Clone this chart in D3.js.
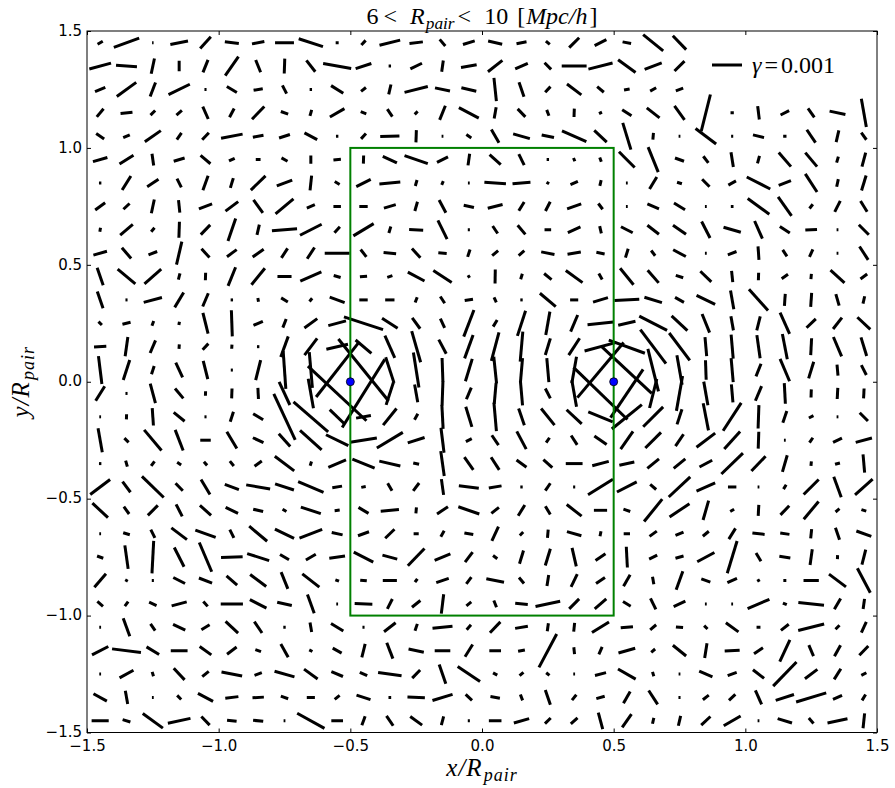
<!DOCTYPE html>
<html>
<head>
<meta charset="utf-8">
<script src="https://cdn.jsdelivr.net/npm/d3@7"></script>
<style>
  body { margin: 0; background: #fff; }
  svg text { fill: #000; }
</style>
</head>
<body>
<svg id="chart" width="895" height="788"></svg>
<script>
// Grid of cell centres (x/R_pair, y/R_pair); rows run from top to bottom.
const xCenters = [-1.45,-1.35,-1.25,-1.15,-1.05,-0.95,-0.85,-0.75,-0.65,-0.55,
                  -0.45,-0.35,-0.25,-0.15,-0.05,0.05,0.15,0.25,0.35,0.45,
                  0.55,0.65,0.75,0.85,0.95,1.05,1.15,1.25,1.35,1.45];
const yCenters = [1.45,1.35,1.25,1.15,1.05,0.95,0.85,0.75,0.65,0.55,
                  0.45,0.35,0.25,0.15,0.05,-0.05,-0.15,-0.25,-0.35,-0.45,
                  -0.55,-0.65,-0.75,-0.85,-0.95,-1.05,-1.15,-1.25,-1.35,-1.45];

// Shear amplitude |gamma| per cell, in units of 1e-4 (null = no measurement).
const gammaAmp = [
 [2,9,0.5,6,5.3,4.7,4.2,6.3,8.5,1,2.1,7.1,4.5,2.9,4.1,4.8,3.4,1.7,4.7,4.4,2.9,8.6,6.4,null,null,null,null,null,null,null],
 [7.5,7,5.2,3.5,4.5,7.7,4.4,5,4.8,9.5,5.5,0.8,4.3,3.8,5.3,6.1,4.6,3.1,8.3,8.3,7.2,6.1,4.7,null,null,null,null,null,null,null],
 [3.7,8,5,7.9,0.7,3.9,3.1,3.1,0.8,4.8,2.1,3.4,8,5.1,5.1,7.8,5.1,2.6,6,2.9,1.9,2.3,2.6,null,null,null,null,null,null,null],
 [3.5,4,2.2,2.4,4.5,3.3,5.9,2.6,2.1,5.6,2,3,1.4,5.1,7.5,3.8,3.7,2.1,2.8,1.1,3.7,5.4,5.7,12.6,1.1,4.5,3.2,3.7,5.4,9.6],
 [3.2,2.4,6.5,2.7,3.2,7.3,3.6,3.8,4.8,0.8,2.4,6.4,4.1,0.6,2,5.1,5.8,4.2,8.9,5.7,9.3,2.2,0.6,8.6,0.7,3.8,1.1,5.2,4,2.9],
 [5,5.5,4,3.8,4.3,2.1,1.6,2.3,2.8,2.5,2.7,5.2,8.2,4.1,3.9,5,4.1,0.8,1.2,1.5,7.4,9,3.2,2.8,5,2.6,6.2,6.1,2.1,4.8],
 [0.8,5.5,4.5,3.3,5.1,3.4,6.8,5.5,5,1.9,5.4,7,2.1,1.4,0.6,7.2,6,1,2.7,2,0.6,4.7,1.7,3.5,2.9,8.8,4.4,7.2,2.6,5.2],
 [4.1,2.8,4.7,4.2,4.7,5.3,5.3,7.8,2.9,2.5,2.8,4.1,3.2,4.8,3.5,5.1,3.4,3.5,5,2.4,0.6,4.2,4.3,0.6,0.9,8.9,7.8,1.8,4.1,4.2],
 [1.3,5.5,1.7,5.3,4.5,7.9,3.5,8.4,8.1,2.7,7.9,2.3,4.7,7,0.7,3,4,2.2,4.6,2.5,4.4,4.9,5.3,6.2,6,6.4,4,3.9,0.6,4.7],
 [4.7,4.7,3.1,7.9,4,4,4.5,3.8,4.5,8.3,3.1,4.2,4.2,2.8,2.6,2.6,2.5,4.5,4.5,2.8,3.1,2.2,4.8,0.6,3.1,4.5,2.6,2.8,0.6,5.3],
 [6.2,7.7,7.4,2.1,2.5,6.7,7.1,4.7,7.7,2.4,2.4,1.8,6.3,7.3,1,4.7,1.9,3.2,6.9,2.3,7.1,5.6,2.6,5.1,3.8,2.5,2.6,1.8,6.3,2.8],
 [5.9,0.7,6.3,5.8,4.8,0.8,1.3,2.6,1.4,5.3,2.8,3.1,1.9,2.7,2.8,1.8,0.8,6.9,2.7,5.2,8.3,6.1,3.4,6.9,6.3,9.5,4,4.7,4,2.5],
 [1.6,2.8,1.7,1.1,7.1,8.7,3.4,3.1,5.3,6.1,13.7,6.2,4.5,3.4,9.5,2.6,8.8,7.9,6,8.7,5.9,10.4,7.2,6.7,4.8,4.8,7.8,4.3,4.8,5.9],
 [4.1,6.5,4.6,1.5,2.8,1.4,0.8,7.3,7,7.4,6.9,8.1,10.8,5.3,8.3,9.8,10,5.8,6.7,11,12.8,14.2,11.4,6.4,8,7.8,8.6,5.6,7,6.5],
 [9.4,7,2.9,5.4,6.3,0.7,6.9,12.6,12,22.8,26.6,9,11.8,8,7.8,8.9,8,8,9,24,22.7,14.6,10,6.5,8,4.5,8.1,5.8,3.7,3.7],
 [5.7,0.7,6.7,4.3,1.5,3.3,3.7,8.5,10,26.7,26.8,8,6,8,4.2,7,8,3.7,9,25,19.4,10,11.8,8,6,5.3,6.9,2.7,3.7,3.3],
 [0.6,1.7,5.8,4.7,0.7,3.5,3.9,16.9,15.3,6.9,5,7.1,2.3,8,7,9.5,5.9,7.1,6.9,8.8,12.9,9.4,5.3,9.2,11.1,7.8,4.1,1.7,0.6,3.9],
 [8.1,2,9,7.4,3.5,6.5,3.9,5.7,9.7,8.3,9,10.1,5.9,8.4,2.2,4,6.7,2,3.7,5,7.2,7.4,4.8,7.8,7.9,5.6,0.6,2,3.3,5.6],
 [0.8,2.1,1.9,1.6,1.6,2.1,3,8.1,1.5,6.4,8,7.2,2,8.4,5.2,5,4.1,4,5.6,5.7,5.1,5,5,4.8,10,6.8,5.8,1.5,1.7,6.1],
 [8.3,4.4,10.1,3.5,5.8,5,8.1,6.6,9.2,3.3,1.5,2.9,3.3,5.3,6.7,4.3,0.8,3,0.7,9.8,7.4,2.6,9.8,6.8,2.8,0.6,1.7,7.1,7.3,7.9],
 [7.1,3,4.7,4.5,5,4.6,3.4,1.5,7,1.7,3.9,6.1,2,4.4,7.4,3.2,4.2,3.2,6.3,4.4,2.4,9.6,8,6.7,1.5,3.7,4.2,7.7,1.7,1.7],
 [0.6,2.3,3.1,6.5,7.2,3.1,7.8,7.1,8.1,3.7,3.9,4.3,1.7,2.3,3,5.2,1.6,2.7,5,1.7,2.1,3,2.9,2.6,4.2,4.1,3.1,3.1,4.2,5.3],
 [2.2,7.9,10.9,7.2,10.6,7.2,7.7,3.5,3.8,5.3,7.3,5.1,8,5.7,4.2,1.8,4.6,5.8,6.3,4,6.9,3,2.8,6.5,11.2,3.2,3.7,5.3,1.3,5.2],
 [5.9,0.9,0.7,4.4,4.7,4.7,6.7,6,7.2,1.3,2.2,4.7,1.4,4.4,2.8,6,2.6,3.7,4.7,3.6,4.4,2.5,6.5,3.2,3.5,1,1,5.1,7.1,9.2],
 [2.5,1.9,2.7,5.2,2.2,7.4,6.2,5,6.6,0.6,5.9,3.7,3.6,6.5,2.1,2.4,4.2,8.4,4.7,5.1,3,4.1,4.3,0.6,0.6,7.9,1.4,8.6,4.2,3.4],
 [0.6,6.4,2.7,4.5,3.2,5.7,4.6,0.8,3.2,4.8,0.7,4.9,2.4,6.7,2.2,5,4.3,2.7,2.9,6.7,4.1,2.6,2.4,1.6,5.2,1.3,3.3,8.9,1.9,3.9],
 [6.1,9.7,4.9,5.6,4.8,4,2,5.1,1.2,3.4,4.6,5.7,5.2,5.2,4.8,3.9,2.3,12.6,2.3,2.7,5.8,1.7,5.7,5,5,3.6,8,4,4.2,4.3],
 [0.6,5.3,1.5,5.3,2.8,7,2.6,6.9,5.6,4.2,2.7,7.9,3.8,6.8,9,1.6,1.7,1.4,0.6,3.8,6.8,1.5,0.6,4.8,3.2,4.7,11.2,5.2,4.2,1.9],
 [5.1,4.5,0.6,1.9,5.7,4.4,3.8,2.6,2.7,2.1,4.9,0.9,5.8,7,2.9,3.2,2.1,5.2,2.3,2.9,4.5,5.5,0.7,2.5,2.9,5.1,6.4,10.5,3.3,2.3],
 [5.7,2.7,8.3,7.7,4,3.2,3.4,0.6,10.4,3.9,3.2,4,4.9,3,0.7,4.2,5.3,2.7,3,5.7,5.4,2,3.4,4.2,6.5,0.6,5,2.4,6.8,5]
];

// Shear position angle per cell, degrees counter-clockwise from the +x axis.
const gammaAngle = [
 [30,20,0,11,48,-7,11,0,-18,0,47,14,7,-50,17,-13,11,-40,45,27,-11,-39,-46,null,null,null,null,null,null,null],
 [15,-4,78,90,68,55,-68,88,-52,-10,18,0,26,82,10,38,24,-45,0,14,-36,21,45,null,null,null,null,null,null,null],
 [22,36,69,26,0,-31,10,-63,0,-32,39,77,14,-12,-13,-84,-71,47,-37,-40,10,29,20,null,null,null,null,null,null,null],
 [50,6,45,41,-66,62,46,-20,74,30,-22,-56,45,68,-28,80,-46,-69,88,27,-33,-38,-54,76,0,-83,27,-55,-12,-80],
 [-34,24,35,55,46,11,11,18,-28,0,47,2,88,0,-34,-60,-16,-12,-24,-43,-73,85,0,-37,0,-14,0,-56,77,-54],
 [16,32,-82,17,-40,25,0,-29,90,5,88,-25,-19,27,82,-42,-64,0,-68,-69,-45,-68,-20,-53,-81,75,-49,-50,74,75],
 [0,58,33,-64,70,73,44,21,84,-31,27,5,74,67,0,-4,5,58,24,77,0,59,-18,-45,29,-27,22,-57,78,73],
 [36,43,78,-84,21,37,-54,40,23,0,0,16,74,-62,-13,14,58,63,20,-53,0,-23,-31,0,0,-36,-55,52,63,-58],
 [80,40,50,88,46,71,77,5,27,48,31,73,-3,-64,0,-56,-50,0,24,-77,-27,-38,-35,-63,-16,-66,-34,3,0,-45],
 [16,-49,21,77,-48,36,35,57,57,0,-52,-5,-48,-5,72,40,41,-11,10,-11,73,-53,-28,0,21,-86,-57,66,0,-57],
 [-71,-40,41,75,88,68,51,0,24,-16,5,18,-28,-33,32,89,73,-39,-36,-61,-51,-49,-18,-44,-84,88,36,85,-42,37],
 [-71,0,15,59,67,0,-80,-31,51,-20,0,0,69,-57,9,-65,0,-40,0,17,3,-17,-29,-26,-80,-48,86,86,-74,77],
 [-45,14,70,80,-76,-88,23,69,36,15,-18,-33,-54,-65,69,59,72,80,67,6,13,-27,-43,-68,-80,76,-66,44,52,-43],
 [3,82,67,86,47,86,0,70,53,13,-40,-66,-74,-62,70,75,85,73,57,15,-20,-53,-53,-85,-85,-82,-79,87,-67,-73],
 [-83,72,72,-65,-76,0,76,-86,-85,52,-51,-72,-81,-88,73,-84,85,-85,80,50,-43,-76,-80,-88,-85,68,-67,73,-85,-63],
 [58,0,-75,-50,88,88,-87,-65,-80,-43,58,72,-80,88,67,85,-85,-63,-80,-44,56,76,80,-80,-85,67,-87,88,87,87],
 [0,88,-86,-39,0,72,-31,-65,-41,-44,10,51,61,-87,-73,-85,-71,-51,-43,-22,39,45,72,-79,57,88,71,27,0,-45],
 [-80,-45,-50,-69,0,-59,-25,-48,-42,-26,9,31,18,-83,27,-56,-62,56,-57,-35,55,45,56,37,48,88,0,56,26,15],
 [0,-74,54,-34,-48,-51,36,-37,72,23,-22,-13,-13,-82,-55,-57,-36,-42,0,15,12,39,39,28,44,46,74,85,15,-85],
 [37,-53,-44,-46,-59,-20,-10,-18,-23,10,10,-60,53,-82,-7,10,0,56,0,32,27,-40,43,24,0,0,58,45,-70,42],
 [-43,-54,45,-63,-42,-26,-13,-30,-18,7,-31,5,85,34,-19,38,58,-59,-38,0,-19,51,34,74,30,87,46,50,40,-18],
 [0,-17,-64,-37,-20,-64,-40,-26,21,-12,20,44,0,61,-10,65,45,85,-16,79,0,36,23,40,58,-6,-8,84,-71,-20],
 [-20,-82,87,-63,-67,2,-18,-31,30,8,-27,-15,46,23,53,-38,73,73,-77,34,-87,27,16,28,73,-59,-9,82,88,76],
 [49,60,0,-27,-21,-41,-37,-68,-38,-20,-5,0,55,19,53,-11,-50,81,64,34,60,-80,70,-20,24,30,0,0,-37,-62],
 [-41,54,-24,15,-49,0,-27,-13,-70,0,-2,63,39,83,39,-68,-5,12,45,41,-31,-64,25,0,0,23,-23,-6,60,82],
 [0,-70,-55,-25,31,-43,-56,0,-80,-31,0,38,71,6,49,46,10,82,84,32,5,40,-5,-45,-36,0,38,14,45,65],
 [27,-7,-31,0,-36,37,-19,-61,-27,-29,76,-69,-12,0,58,0,11,62,-84,66,16,40,-39,81,3,34,65,-67,61,46],
 [0,29,-73,-47,39,-11,20,-16,-36,-23,-24,-8,46,-71,-34,-28,40,-39,0,14,-30,-73,0,-23,20,-38,46,37,58,28],
 [-29,-80,0,-45,-28,7,3,-20,0,39,-18,0,-2,17,-43,-10,-69,-71,51,16,60,-57,0,38,43,-66,18,17,24,59],
 [0,-17,-36,12,-46,-6,-6,0,-29,0,70,-56,-36,75,0,0,16,45,42,-75,55,77,77,43,30,0,-17,-49,12,84]
];

// Pair members and the stacking box between them.
const haloX = [-0.5, 0.5];
const haloY = [0, 0];
const boxX = [-0.5, 0.5];
const boxY = [-1, 1];

const tickValues = [-1.5, -1.0, -0.5, 0.0, 0.5, 1.0, 1.5];
const tickLabels = ["\u22121.5", "\u22121.0", "\u22120.5", "0.0", "0.5", "1.0", "1.5"];
const keyGamma = 0.001;

const W = 895, H = 788;
const margin = { left: 87, right: 18, top: 31, bottom: 55.5 };
const svg = d3.select("#chart");

const x = d3.scaleLinear().domain([-1.5, 1.5]).range([margin.left, W - margin.right]);
const y = d3.scaleLinear().domain([-1.5, 1.5]).range([H - margin.bottom, margin.top]);
// whisker length in pixels per unit of gamma (amplitudes are stored in 1e-4)
const len = d3.scaleLinear().domain([0, 1]).range([0, 3]);

svg.append("defs").append("clipPath").attr("id", "plotClip")
  .append("rect")
  .attr("x", x(-1.5)).attr("y", y(1.5))
  .attr("width", x(1.5) - x(-1.5)).attr("height", y(-1.5) - y(1.5));

// Whiskers, centred on their cells.
const cells = [];
gammaAmp.forEach((row, j) => row.forEach((a, i) => {
  const t = gammaAngle[j][i];
  if (a == null || t == null) return;
  cells.push({ cx: xCenters[i], cy: yCenters[j], amp: a, ang: t });
}));

const rad = Math.PI / 180;
svg.append("g").attr("clip-path", "url(#plotClip)")
  .selectAll("line").data(cells).join("line")
  .attr("x1", d => x(d.cx) - len(d.amp) / 2 * Math.cos(d.ang * rad))
  .attr("y1", d => y(d.cy) + len(d.amp) / 2 * Math.sin(d.ang * rad))
  .attr("x2", d => x(d.cx) + len(d.amp) / 2 * Math.cos(d.ang * rad))
  .attr("y2", d => y(d.cy) - len(d.amp) / 2 * Math.sin(d.ang * rad))
  .attr("stroke", "#000").attr("stroke-width", 3).attr("stroke-linecap", "butt");

// Stacking box
svg.append("rect")
  .attr("x", x(boxX[0])).attr("y", y(boxY[1]))
  .attr("width", x(boxX[1]) - x(boxX[0])).attr("height", y(boxY[0]) - y(boxY[1]))
  .attr("fill", "none").attr("stroke", "#008000").attr("stroke-width", 2);

// Haloes
svg.append("g").selectAll("circle").data(haloX).join("circle")
  .attr("cx", d => x(d)).attr("cy", (d, i) => y(haloY[i])).attr("r", 4)
  .attr("fill", "#0000ff").attr("stroke", "#000").attr("stroke-width", 0.8);

// Axes: inward ticks on all four sides, labels bottom and left.
const fmt = d => tickLabels[tickValues.indexOf(d)];
const axFont = "'DejaVu Sans', sans-serif";
const gB = svg.append("g").attr("transform", `translate(0,${y(-1.5)})`)
  .call(d3.axisBottom(x).tickValues(tickValues).tickFormat(fmt).tickSize(-4).tickPadding(8));
const gT = svg.append("g").attr("transform", `translate(0,${y(1.5)})`)
  .call(d3.axisTop(x).tickValues(tickValues).tickFormat("").tickSize(-4));
const gL = svg.append("g").attr("transform", `translate(${x(-1.5)},0)`)
  .call(d3.axisLeft(y).tickValues(tickValues).tickFormat(fmt).tickSize(-4).tickPadding(5));
const gR = svg.append("g").attr("transform", `translate(${x(1.5)},0)`)
  .call(d3.axisRight(y).tickValues(tickValues).tickFormat("").tickSize(-4));
[gB, gT, gL, gR].forEach(g => {
  g.select(".domain").remove();
  g.selectAll(".tick line").attr("stroke", "#000").attr("stroke-width", 1);
  g.selectAll("text").attr("font-family", axFont).attr("font-size", 15).attr("fill", "#000");
});
gL.selectAll("text").attr("dy", "0.28em");

svg.append("rect")
  .attr("x", x(-1.5)).attr("y", y(1.5))
  .attr("width", x(1.5) - x(-1.5)).attr("height", y(-1.5) - y(1.5))
  .attr("fill", "none").attr("stroke", "#000").attr("stroke-width", 1);

// Math-style text: italic variables, lowered subscripts, spacing in px.
const serif = "'Liberation Serif', 'DejaVu Serif', serif";
function mathText(sel, parts) {
  parts.forEach(p => {
    const t = sel.append("tspan").text(p.t);
    if (p.i) t.attr("font-style", "italic");
    if (p.sub) t.attr("font-size", "72%");
    if (p.dy) t.attr("dy", p.dy);
    if (p.dx) t.attr("dx", p.dx);
  });
  return sel;
}

// Title
mathText(svg.append("text")
  .attr("x", (x(-1.5) + x(1.5)) / 2).attr("y", 24)
  .attr("text-anchor", "middle").attr("font-family", serif).attr("font-size", 24),
  [{ t: "6" }, { t: "<", dx: 5 }, { t: "R", i: true, dx: 13 }, { t: "pair", i: true, sub: true, dy: 5, dx: 1 },
   { t: "<", dy: -5, dx: 3 }, { t: "10", dx: 13 }, { t: "[", dx: 9 }, { t: "Mpc/h", i: true, dx: 1 }, { t: "]", dx: 2 }]);

// Axis labels
mathText(svg.append("text")
  .attr("x", (x(-1.5) + x(1.5)) / 2).attr("y", 776)
  .attr("text-anchor", "middle").attr("font-family", serif).attr("font-size", 25)
  .attr("letter-spacing", 1),
  [{ t: "x/R", i: true }, { t: "pair", i: true, sub: true, dy: 5, dx: 1 }]);

mathText(svg.append("text")
  .attr("transform", `translate(29,${(y(1.5) + y(-1.5)) / 2}) rotate(-90)`)
  .attr("text-anchor", "middle").attr("font-family", serif).attr("font-size", 25)
  .attr("letter-spacing", 1),
  [{ t: "y/R", i: true }, { t: "pair", i: true, sub: true, dy: 5, dx: 1 }]);

// Key
const keyLen = len(keyGamma * 1e4);
const keyX = 712, keyY = 65;
svg.append("line")
  .attr("x1", keyX).attr("x2", keyX + keyLen).attr("y1", keyY).attr("y2", keyY)
  .attr("stroke", "#000").attr("stroke-width", 3);
mathText(svg.append("text")
  .attr("x", keyX + keyLen + 10).attr("y", keyY + 8)
  .attr("font-family", serif).attr("font-size", 24),
  [{ t: "\u03b3", i: true }, { t: "=", dx: 3 }, { t: "0.001", dx: 3 }]);
</script>
</body>
</html>
